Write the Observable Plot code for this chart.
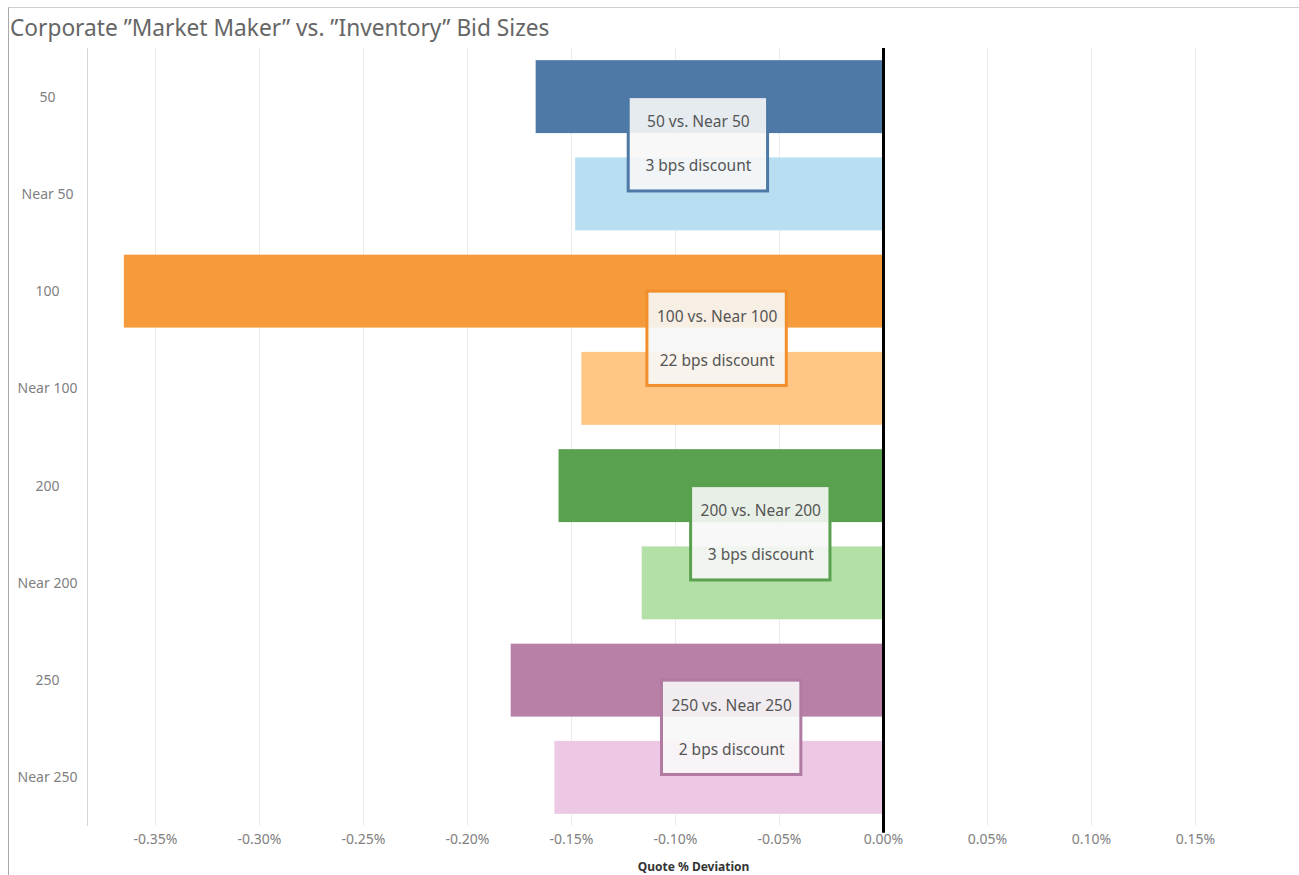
<!DOCTYPE html>
<html>
<head>
<meta charset="utf-8">
<script src="https://cdn.jsdelivr.net/npm/d3@7"></script>
<script src="https://cdn.jsdelivr.net/npm/@observablehq/plot@0.6"></script>
<style>
  html, body { margin: 0; padding: 0; background: #fff; }
  #frame {
    position: absolute; left: 8px; top: 7px; width: 1291px; height: 868px;
    border-left: 1px solid #a8a8a8; border-top: 1px solid #cfcfcf;
    font-family: "Noto Sans", "Open Sans", sans-serif;
  }
  #title {
    height: 40px; line-height: 39px; font-size: 22.7px; color: #666;
    padding-left: 1px; white-space: nowrap;
  }
  #chart svg { display: block; }
</style>
</head>
<body>
<div id="frame">
  <div id="title">Corporate ”Market Maker” vs. ”Inventory” Bid Sizes</div>
  <div id="chart"></div>
</div>
<script>
// ---- data ----
const categories = ["50", "Near 50", "100", "Near 100", "200", "Near 200", "250", "Near 250"];
const deviations = [-0.167, -0.148, -0.365, -0.145, -0.156, -0.116, -0.179, -0.158]; // Quote % Deviation
const barColors = ["#4e79a7", "#b9ddf1", "#f59b3b", "#ffc685", "#59a14f", "#b3e0a6", "#b880a6", "#edc8e5"];

const pairLabels = ["50 vs. Near 50", "100 vs. Near 100", "200 vs. Near 200", "250 vs. Near 250"];
const discountLabels = ["3 bps discount", "22 bps discount", "3 bps discount", "2 bps discount"];
const noteRows = [0, 2, 4, 6];
const noteX = [-0.089, -0.080, -0.059, -0.073];
const noteColors = ["#4e79a7", "#f28e2b", "#59a14f", "#b07aa1"];

const xTicks = [-0.35, -0.30, -0.25, -0.20, -0.15, -0.10, -0.05, 0.00, 0.05, 0.10, 0.15];
const xDomain = [-0.3827, 0.2];
const axisTitle = "Quote % Deviation";

// ---- tables ----
const rows = categories.map((c, i) => ({i, cat: c, value: deviations[i], color: barColors[i]}));
const notes = pairLabels.map((p, k) => ({i: noteRows[k], title: p, disc: discountLabels[k], cx: noteX[k], color: noteColors[k]}));
const halfW = 0.0335;

const chart = Plot.plot({
  width: 1290,
  height: 827,
  marginTop: 0,
  marginBottom: 49,
  marginLeft: 78,
  marginRight: 0,
  style: {fontFamily: "'Noto Sans', 'Open Sans', sans-serif", fontSize: "14px", color: "#808080", background: "transparent"},
  x: {domain: xDomain},
  y: {domain: [-0.5, 7.5], reverse: true},
  color: {type: "identity"},
  marks: [
    Plot.gridX(xTicks, {stroke: "#ececec", strokeOpacity: 1}),
    Plot.ruleX([xDomain[0]], {stroke: "#d6d6d6"}),
    Plot.rect(rows, {x1: d => 0, x2: "value", y1: d => d.i - 0.375, y2: d => d.i + 0.375, fill: d => d.color}),
    Plot.ruleX([0], {stroke: "#000", strokeWidth: 3, y1: -0.5, y2: 7.57}),
    Plot.rect(notes, {
      x1: d => d.cx - halfW, x2: d => d.cx + halfW,
      y1: d => d.i, y2: d => d.i + 0.97,
      fill: "#f7f7f7", fillOpacity: 0.9, stroke: d => d.color, strokeWidth: 3
    }),
    Plot.text(notes, {x: "cx", y: d => d.i + 0.26, text: "title", fill: "#555", fontSize: 15.5}),
    Plot.text(notes, {x: "cx", y: d => d.i + 0.71, text: "disc", fill: "#555", fontSize: 15.5}),
    Plot.axisX(xTicks, {tickSize: 0, tickPadding: 8, tickFormat: d => d.toFixed(2) + "%", label: null, fontSize: 14}),
    Plot.axisY(d3.range(categories.length), {tickSize: 0, tickPadding: 40, textAnchor: "middle", tickFormat: i => categories[i], label: null, fontSize: 14}),
    Plot.text([axisTitle], {frameAnchor: "bottom", dy: 44, text: d => d, fill: "#333", fontWeight: "bold", fontSize: 12})
  ]
});
document.getElementById("chart").appendChild(chart);
</script>
</body>
</html>
